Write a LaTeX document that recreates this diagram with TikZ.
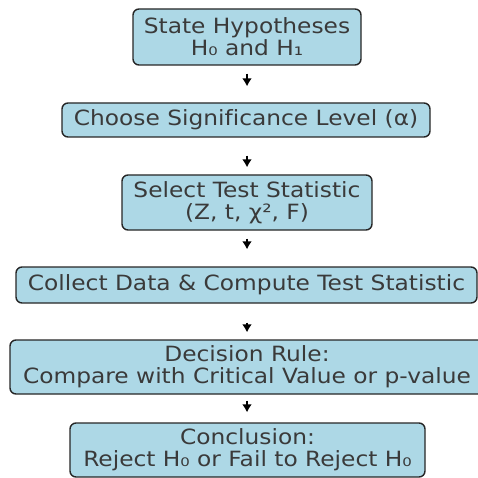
\documentclass[tikz,border=0pt]{standalone}
\usepackage{fontspec}
\setmainfont[FakeStretch=1.11, Ligatures={NoCommon}]{DejaVu Sans}
\usetikzlibrary{arrows.meta}
\definecolor{boxfill}{HTML}{ADD8E6}
\definecolor{boxline}{HTML}{262626}
\definecolor{txt}{HTML}{3A3A3A}
\tikzset{
  stepbox/.style={draw=boxline, fill=boxfill, line width=1.4pt,
    rounded corners=6pt, align=center, text=txt, inner sep=0pt,
    font=\fontsize{21}{22}\selectfont},
  flow/.style={-{Latex[length=8pt,width=10pt]}, line width=2pt, black}
}
\begin{document}
\begin{tikzpicture}[x=1pt,y=1pt]
\useasboundingbox (0,0) rectangle (478,-478);
\begin{scope}
\clip (0,0) rectangle (478,-478);
\node[stepbox, minimum width=228pt, minimum height=56pt] (s1) at (247,-37)
  {State Hypotheses\\H₀ and H₁};
\node[stepbox, minimum width=368pt, minimum height=34pt] (s2) at (246,-120)
  {Choose Significance Level (α)};
\node[stepbox, minimum width=250pt, minimum height=55pt] (s3) at (247,-202.5)
  {Select Test Statistic\\(Z, t, χ², F)};
\node[stepbox, minimum width=461pt, minimum height=36pt] (s4) at (246.5,-285)
  {Collect Data \& Compute Test Statistic};
\node[stepbox, minimum width=474pt, minimum height=54pt] (s5) at (247,-367)
  {Decision Rule:\\Compare with Critical Value or p-value};
\node[stepbox, minimum width=355pt, minimum height=54pt] (s6) at (247.5,-450)
  {Conclusion:\\Reject H₀ or Fail to Reject H₀};
\end{scope}
\draw[flow, shorten <=8pt, shorten >=16pt] (s1.south -| 247,0) -- (s2.north -| 247,0);
\draw[flow, shorten <=18pt, shorten >=7pt] (s2.south -| 247,0) -- (s3.north -| 247,0);
\draw[flow, shorten <=8pt, shorten >=17pt] (s3.south -| 247,0) -- (s4.north -| 247,0);
\draw[flow, shorten <=19pt, shorten >=7pt] (s4.south -| 247,0) -- (s5.north -| 247,0);
\draw[flow, shorten <=6pt, shorten >=10pt] (s5.south -| 247,0) -- (s6.north -| 247,0);
\end{tikzpicture}
\end{document}
